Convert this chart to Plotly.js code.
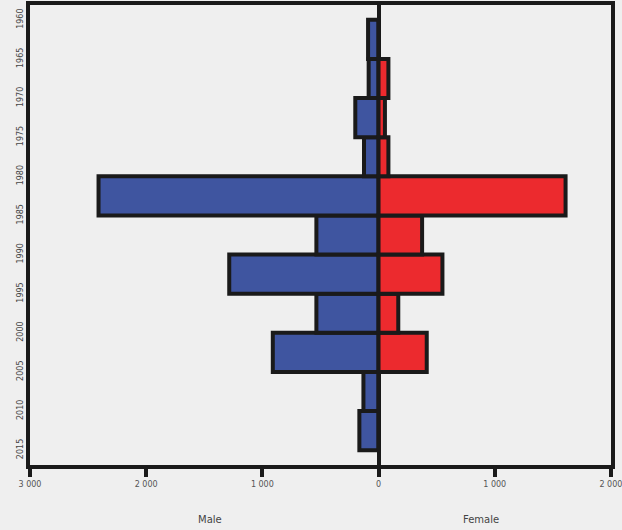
<!DOCTYPE html>
<html><head><meta charset="utf-8">
<script src="https://cdn.plot.ly/plotly-3.0.1.min.js"></script>
<style>html,body{margin:0;padding:0;background:#efefef;overflow:hidden;}#chart{width:622px;height:530px;}</style>
</head><body><div id="chart"></div>
<script>
// rows from bottom (index 0) to top (index 10)
const rows = [0,1,2,3,4,5,6,7,8,9,10];
const male   = [165, 130, 910, 535, 1285, 535, 2410, 125, 200, 85, 90];
const female = [0, 0, 415, 170, 550, 375, 1610, 85, 55, 85, 0];
const edgeLabels = ["2015","2010","2005","2000","1995","1990","1985","1980","1975","1970","1965","1960"];
const edgePos = [-0.5,0.5,1.5,2.5,3.5,4.5,5.5,6.5,7.5,8.5,9.5,10.5];
const xTickVals = [-3000,-2000,-1000,0,1000,2000];
const xTickText = ["3 000","2 000","1 000","0","1 000","2 000"];
const axisTitles = ["Male","Female"];

const lineStyle = {color:'#1a1a1a', width:4};
const data = [
  {type:'bar', orientation:'h', y:rows, x:male.map(v=>-v), width:1,
   marker:{color:'#3f55a0', line:lineStyle}, hoverinfo:'skip'},
  {type:'bar', orientation:'h', y:rows, x:female, width:1,
   marker:{color:'#ec2a2e', line:lineStyle}, hoverinfo:'skip'}
];
const layout = {
  width:622, height:530,
  paper_bgcolor:'#efefef', plot_bgcolor:'#efefef',
  margin:{l:30,r:11,t:5,b:65},
  barmode:'overlay', bargap:0, showlegend:false,
  xaxis:{range:[-3000,2001], tickvals:xTickVals, ticktext:xTickText,
    ticklabeloverflow:'allow',
    showgrid:false, zeroline:true, zerolinecolor:'#1a1a1a', zerolinewidth:4,
    showline:true, linecolor:'#1a1a1a', linewidth:4, mirror:true,
    ticks:'outside', ticklen:8, tickwidth:4, tickcolor:'#1a1a1a',
    tickfont:{family:'DejaVu Sans', size:8, color:'#555'}},
  yaxis:{range:[-0.88,10.88], tickvals:edgePos, ticktext:edgeLabels,
    ticklabeloverflow:'allow',
    tickangle:-90, showgrid:false, zeroline:false,
    showline:true, linecolor:'#1a1a1a', linewidth:4, mirror:true,
    ticks:'', tickfont:{family:'DejaVu Sans', size:8, color:'#444'}},
  annotations:[
    {text:axisTitles[0], x:-1450, y:-0.135, xref:'x', yref:'paper', showarrow:false,
     font:{family:'DejaVu Sans', size:10, color:'#444'}},
    {text:axisTitles[1], x:880, y:-0.135, xref:'x', yref:'paper', showarrow:false,
     font:{family:'DejaVu Sans', size:10, color:'#444'}}
  ]
};
Plotly.newPlot('chart', data, layout, {displayModeBar:false, staticPlot:true});
</script></body></html>
